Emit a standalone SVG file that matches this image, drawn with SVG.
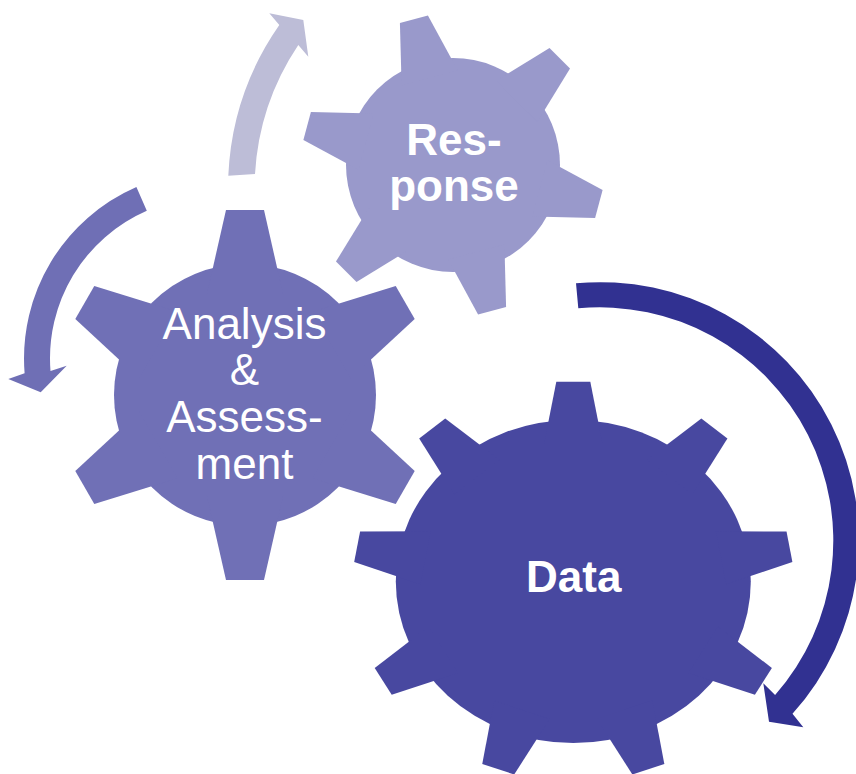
<svg xmlns="http://www.w3.org/2000/svg" xmlns:xlink="http://www.w3.org/1999/xlink" width="856" height="774" viewBox="0 0 856 774">
  <style>
    .lb { font-family: "Liberation Sans", Arial, sans-serif; font-size: 44px; fill: #ffffff; text-anchor: middle; }
    .b { font-weight: bold; }
    .c-data { fill: #4848A0; }
    .c-ana { fill: #7070B6; }
    .c-resp { fill: #9999CB; }
  </style>
  <defs>
    <polygon id="t9" points="-17,-219.5 17,-219.5 29.5,-150 -29.5,-150"/>
    <polygon id="t6a" points="-19,-185 19,-185 38.3,-100 -38.3,-100"/>
    <polygon id="t6r" points="-14.5,-151 14.5,-151 29.1,-90 -29.1,-90"/>
  </defs>

  <g id="gear-data" class="c-data">
    <g transform="translate(573.3,581.5) scale(1,0.91)">
      <circle r="177.5"/>
      <use xlink:href="#t9"/>
      <use xlink:href="#t9" transform="rotate(40)"/>
      <use xlink:href="#t9" transform="rotate(80)"/>
      <use xlink:href="#t9" transform="rotate(120)"/>
      <use xlink:href="#t9" transform="rotate(160)"/>
      <use xlink:href="#t9" transform="rotate(200)"/>
      <use xlink:href="#t9" transform="rotate(240)"/>
      <use xlink:href="#t9" transform="rotate(280)"/>
      <use xlink:href="#t9" transform="rotate(320)"/>
    </g>
    <text class="lb b" x="573.7" y="591.7">Data</text>
  </g>

  <g id="gear-analysis" class="c-ana">
    <g transform="translate(245,395)">
      <circle r="131"/>
      <use xlink:href="#t6a"/>
      <use xlink:href="#t6a" transform="rotate(60)"/>
      <use xlink:href="#t6a" transform="rotate(120)"/>
      <use xlink:href="#t6a" transform="rotate(180)"/>
      <use xlink:href="#t6a" transform="rotate(240)"/>
      <use xlink:href="#t6a" transform="rotate(300)"/>
    </g>
    <text class="lb" x="244.5" y="338.5">Analysis</text>
    <text class="lb" x="244.5" y="385">&amp;</text>
    <text class="lb" x="244.5" y="432">Assess-</text>
    <text class="lb" x="244.5" y="478.5">ment</text>
  </g>

  <g id="gear-response" class="c-resp">
    <g transform="translate(453,165)">
      <circle r="107"/>
      <use xlink:href="#t6r" transform="rotate(45)"/>
      <use xlink:href="#t6r" transform="rotate(105)"/>
      <use xlink:href="#t6r" transform="rotate(165)"/>
      <use xlink:href="#t6r" transform="rotate(225)"/>
      <use xlink:href="#t6r" transform="rotate(285)"/>
      <use xlink:href="#t6r" transform="rotate(345)"/>
    </g>
    <text class="lb b" x="454" y="155">Res-</text>
    <text class="lb b" x="454" y="200.7">ponse</text>
  </g>

  <g id="connectors">
    <path id="arrow-data" fill="#313191" d="M576,283.3 A258.6,258.6 0 0 1 792.5,713.8 L803.3,727.3 L769,721.7 L763.3,683.3 L775.1,694.9 A233.4,233.4 0 0 0 578.3,308.3 Z"/>
    <path id="arrow-analysis" fill="#6F6FB5" d="M136.4,187 A187,187 0 0 0 24.6,373.2 L8.3,379 L40.7,392.3 L66.7,365.7 L50.5,371.1 A161,161 0 0 1 146.8,210.8 Z"/>
    <path id="arrow-response" fill="#BDBDD7" d="M228.3,175.7 A285.7,285.7 0 0 1 279.3,25 L269.3,13.3 L303.3,20 L308.3,56.7 L298.3,45 A259,259 0 0 0 255,174 Z"/>
  </g>
</svg>
